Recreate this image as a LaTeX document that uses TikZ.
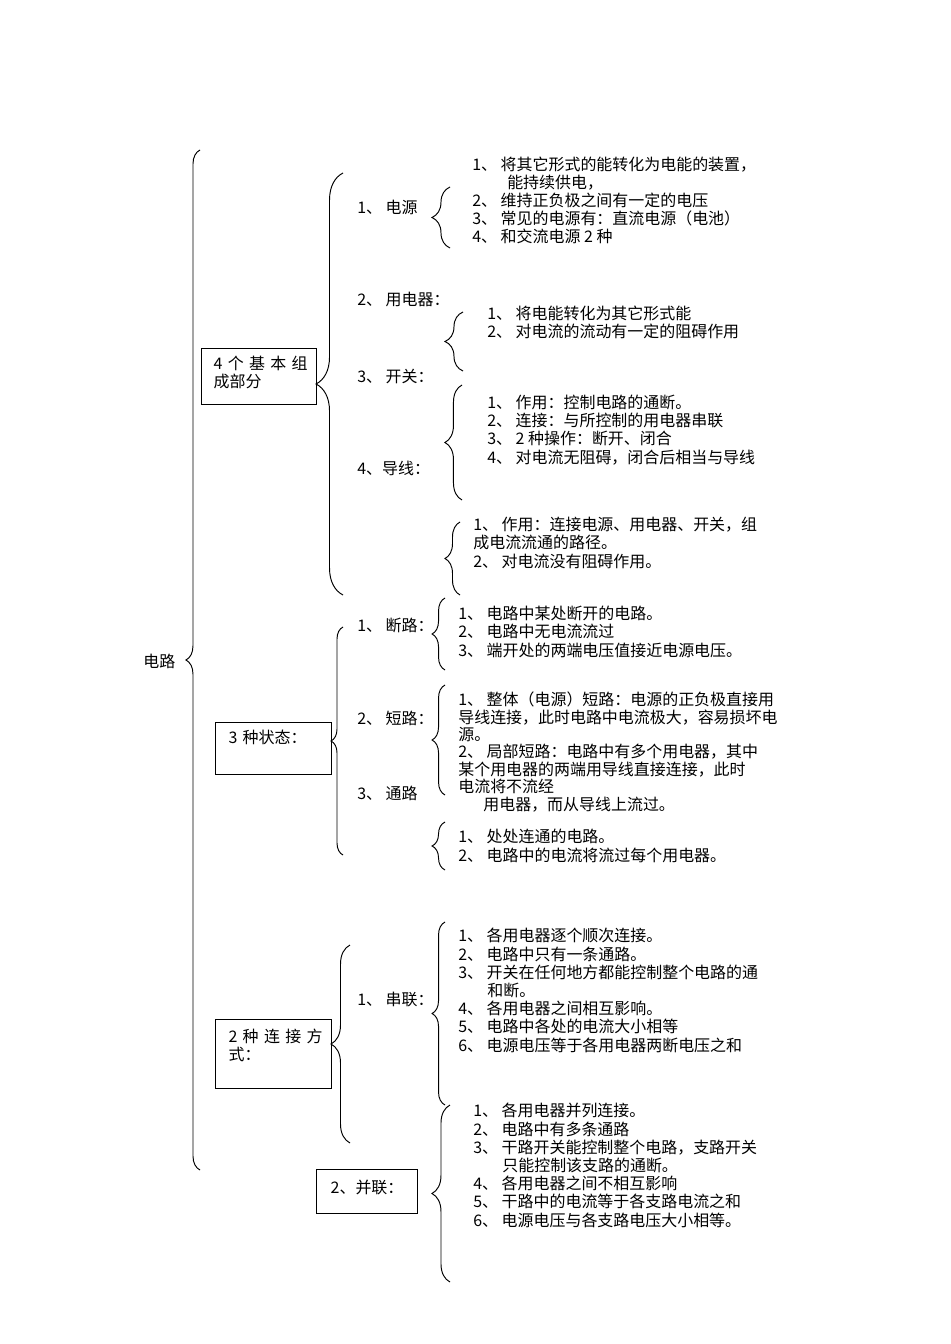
\documentclass[tikz,border=0pt]{standalone}
\usepackage{fontspec}
\setmainfont{Noto Sans CJK SC}
\usetikzlibrary{decorations.pathreplacing}
\tikzset{
  curly/.style = {decorate, decoration={brace, amplitude=#1}, line width=0.6pt},
  basic/.style = {font=\fontsize{10pt}{11.4pt}\selectfont, inner sep=0pt},
  box/.style   = {basic, draw, line width=0.8pt, anchor=north west, align=left,
                  inner ysep=3pt, text height=10.2pt},
  item/.style  = {basic, anchor=base west},
  notes/.style = {basic, anchor=base west, align=left}
}

\begin{document}
\begin{tikzpicture}[x=0.6265pt, y=-0.6265pt]
\useasboundingbox (0,0) rectangle (950,1344);

% root
\node[item] (root) at (143,667) {电路};

% the three boxes of the second level
\node[box, text width=57pt, inner xsep=7.5pt, text depth=18.9pt] (parts) at (201,348) {4~个~基~本~组\\成部分};
\node[box, text width=56.5pt, inner xsep=8.1pt, text depth=16.4pt] (states) at (215,722) {3 种状态：};
\node[box, text width=56.5pt, inner xsep=8.1pt, text height=11.4pt, text depth=25.8pt] (ways) at (215,1019) {2~种~连~接~方\\式：};
\node[box, text width=45.7pt, inner xsep=8.8pt, text height=12pt, text depth=9.6pt] (bl) at (316,1169) {2、并联：};

% items of each box
\node[item] (dy) at (357,214) {1、 电源};
\node[item] (yd) at (357,306) {2、 用电器：};
\node[item] (kg) at (357,382) {3、 开关：};
\node[item] (dx) at (357,474) {4、导线：};
\node[item] (dl) at (357,631) {1、 断路：};
\node[item] (sc) at (357,724) {2、 短路：};
\node[item] (tl) at (357,799) {3、 通路};
\node[item] (cl) at (357,1005) {1、 串联：};

% notes, one block for every item (placed at the baseline of the last line)
\node[notes] (dy1) at (472,243) {1、 将其它形式的能转化为电能的装置，\\
  \hspace*{21.9pt}能持续供电，\\
  2、 维持正负极之间有一定的电压\\
  3、 常见的电源有：直流电源（电池）\\
  4、 和交流电源 2 种};
\node[notes] (yd1) at (487,338) {1、 将电能转化为其它形式能\\
  2、 对电流的流动有一定的阻碍作用};
\node[notes] (kg1) at (487,463) {1、 作用：控制电路的通断。\\
  2、 连接：与所控制的用电器串联\\
  3、 2 种操作：断开、闭合\\
  4、 对电流无阻碍，闭合后相当与导线};
\node[notes] (dx1) at (473,567) {1、 作用：连接电源、用电器、开关，组\\
  成电流流通的路径。\\
  2、 对电流没有阻碍作用。};
\node[notes] (dl1) at (458,656) {1、 电路中某处断开的电路。\\
  2、 电路中无电流流过\\
  3、 端开处的两端电压值接近电源电压。};
\node[notes, font=\fontsize{10pt}{10.9pt}\selectfont] (sc1) at (458,810) {1、 整体（电源）短路：电源的正负极直接用\\
  导线连接，此时电路中电流极大，容易损坏电\\
  源。\\
  2、 局部短路：电路中有多个用电器，其中\\
  某个用电器的两端用导线直接连接，此时\\
  电流将不流经\\
  \hspace*{15.7pt}用电器，而从导线上流过。};
\node[notes] (tl1) at (458,861) {1、 处处连通的电路。\\
  2、 电路中的电流将流过每个用电器。};
\node[notes] (cl1) at (458,1051) {1、 各用电器逐个顺次连接。\\
  2、 电路中只有一条通路。\\
  3、 开关在任何地方都能控制整个电路的通\\
  \hspace*{18.2pt}和断。\\
  4、 各用电器之间相互影响。\\
  5、 电路中各处的电流大小相等\\
  6、 电源电压等于各用电器两断电压之和};
\node[notes] (bl1) at (473,1226) {1、 各用电器并列连接。\\
  2、 电路中有多条通路\\
  3、 干路开关能控制整个电路，支路开关\\
  \hspace*{18.2pt}只能控制该支路的通断。\\
  4、 各用电器之间不相互影响\\
  5、 干路中的电流等于各支路电流之和\\
  6、 电源电压与各支路电压大小相等。};

% braces: name / x / top / bottom / amplitude
\foreach \n/\x/\t/\b/\a in {main/200/150/1170/8.8pt, parts/343/173/595/16.9pt,
    dy/450/187/248/11.3pt, yd/463/312/371/11.3pt, kg/462/385/500/10.7pt,
    dx/460/522/595/9.4pt, states/343/627/855/7.5pt, dl/445/598/670/8.1pt,
    sc/445/685/795/8.1pt, tl/445/822/870/8.1pt, ways/350/945/1143/11.9pt,
    cl/445/922/1105/8.1pt, bl/450/1105/1282/11.3pt}
{
  \coordinate (\n-top) at (\x,\t);
  \coordinate (\n-bot) at (\x,\b);
  \draw[curly=\a] (\n-bot) -- (\n-top);
}
\end{tikzpicture}
\end{document}
